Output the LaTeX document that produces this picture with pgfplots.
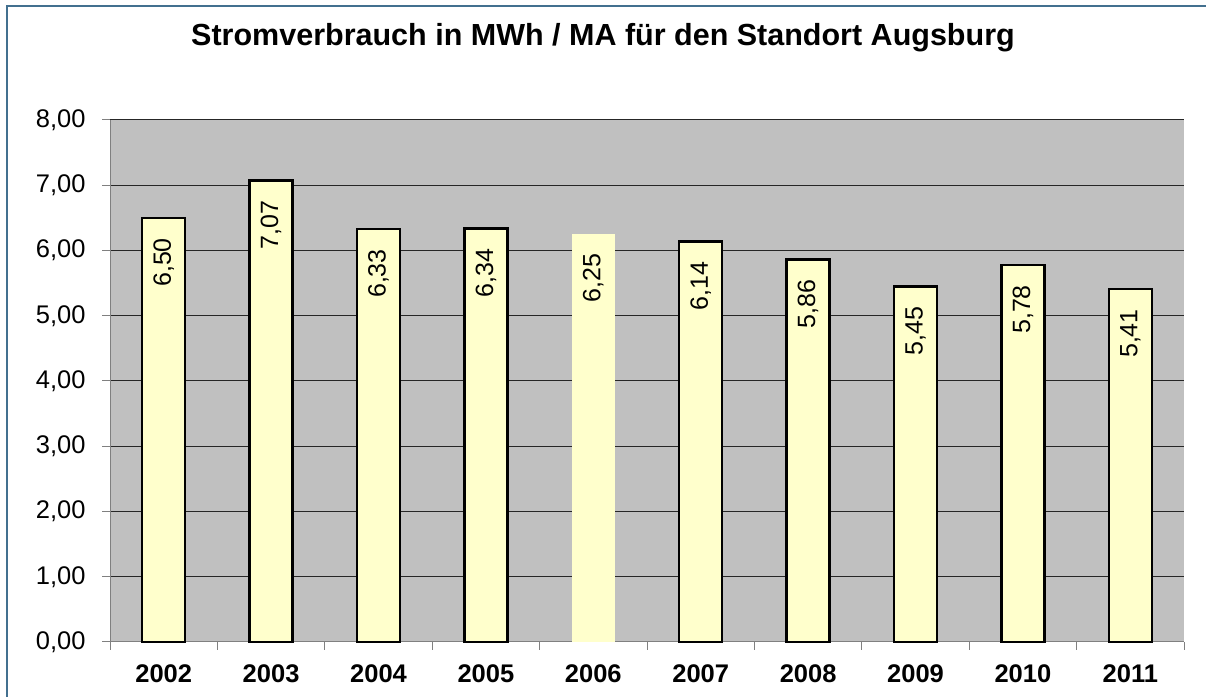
\documentclass[border=0pt]{standalone}
\usepackage{pgfplots}
\pgfplotsset{compat=1.18}
\usepackage{fontspec}
\setmainfont{Liberation Sans}
\definecolor{frame}{HTML}{43708F}
\definecolor{plotbg}{HTML}{C0C0C0}
\definecolor{barfill}{HTML}{FFFFCC}
\begin{document}
\begin{tikzpicture}[x=1bp,y=1bp]
\useasboundingbox (0,0) rectangle (1206,697);
\begin{scope}
\clip (0,0) rectangle (1206,697);
\fill[white] (0,0) rectangle (1206,697);
\draw[frame, line width=2.5bp] (7,-20) rectangle (1230,691);
\end{scope}
\node[font=\fontsize{30.5bp}{36bp}\selectfont\bfseries] at (603,659) {Stromverbrauch in MWh / MA für den Standort Augsburg};
\begin{axis}[
  at={(110bp,55bp)}, anchor=south west,
  scale only axis, width=1074bp, height=522bp,
  xmin=-0.5, xmax=9.5, ymin=0, ymax=8,
  axis background/.style={fill=plotbg},
  axis x line*=bottom, axis y line*=left,
  axis line style={draw=gray, line width=1bp},
  ymajorgrids, major grid style={black!85, line width=1bp},
  ytick={0,1,...,8},
  every tick label/.append style={font=\fontsize{25.5bp}{30bp}\selectfont},
  yticklabel style={xshift=-13bp, /pgf/number format/.cd, fixed, fixed zerofill, precision=2, use comma, assume math mode=true},
  xtick={0,...,9},
  xticklabels={2002,2003,2004,2005,2006,2007,2008,2009,2010,2011},
  xticklabel style={font=\fontsize{25.5bp}{30bp}\selectfont\bfseries, yshift=-11bp},
  major x tick style={draw=none},
  minor xtick={-0.5,0.5,...,9.5},
  tick align=outside,
  major tick length=8bp, minor tick length=8bp,
  tick style={draw=gray, line width=1bp},
  clip=false,
]
\addplot[ybar, bar width=43bp, bar shift=0pt, fill=barfill, draw=black, line width=2.5bp,
  nodes near coords,
  every node near coord/.append style={rotate=90, anchor=east, inner xsep=19bp, text=black,
    font=\fontsize{25bp}{30bp}\selectfont,
    /pgf/number format/.cd, fixed, fixed zerofill, precision=2, use comma, assume math mode=true}]
  coordinates {(0,6.50) (1,7.07) (2,6.33) (3,6.34) (5,6.14) (6,5.86) (7,5.45) (8,5.78) (9,5.41)};
\addplot[ybar, bar width=43bp, bar shift=0pt, fill=barfill, draw=none,
  nodes near coords,
  every node near coord/.append style={rotate=90, anchor=east, inner xsep=19bp, text=black,
    font=\fontsize{25bp}{30bp}\selectfont,
    /pgf/number format/.cd, fixed, fixed zerofill, precision=2, use comma, assume math mode=true}]
  coordinates {(4,6.25)};
\end{axis}
\end{tikzpicture}
\end{document}
